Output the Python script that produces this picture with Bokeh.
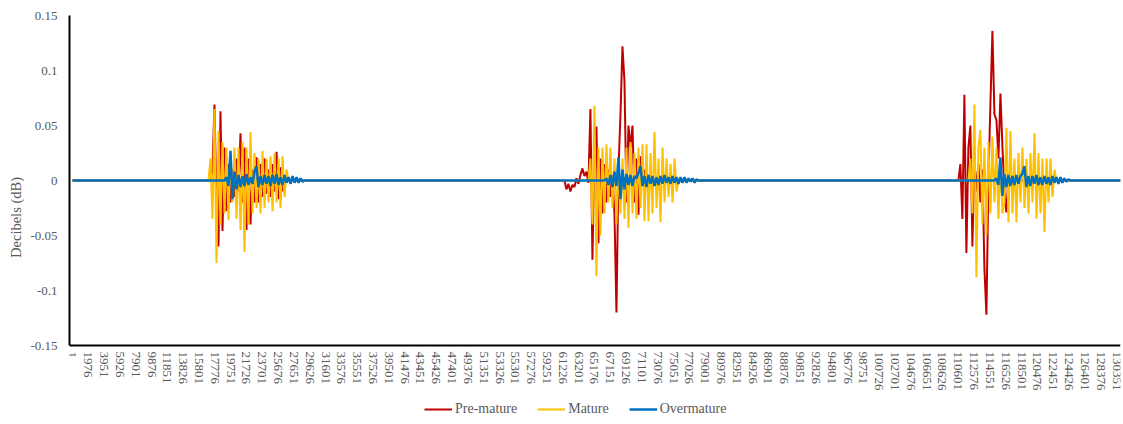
from bokeh.plotting import figure
from bokeh.models import Range1d, FixedTicker, Legend, LegendItem, NumeralTickFormatter
from bokeh.embed import file_html
from bokeh.resources import INLINE

# ---- axis data ----
x_tick_labels = list(range(1, 130352, 1975))
y_ticks = [-0.15, -0.1, -0.05, 0, 0.05, 0.1, 0.15]
y_tick_labels = ["-0.15", "-0.1", "-0.05", "0", "0.05", "0.1", "0.15"]
Y_MIN, Y_MAX = -0.15, 0.15
FIRST_SAMPLE = 1
LAST_SAMPLE = 130850
STEP = 250  # samples between listed readings

# ---- Pre-mature (red) bursts: start sample, readings ----
pre_b1_start = 17480
pre_b1 = [0.01, 0.069, -0.02, -0.06, 0.063, -0.046, 0.03, -0.028, 0.015, -0.02, 0.01, -0.015,
          0.02, -0.01, 0.043, -0.02, 0.03, -0.045, 0.02, -0.04, 0.01, -0.02, 0.021, -0.02,
          0.015, -0.015, 0.02, -0.012, 0.01, -0.015, 0.015, -0.01, 0.026, -0.017, 0.012, -0.01, 0.005]
pre_b2_start = 61670
pre_b2 = [-0.008, -0.003, -0.01, -0.004, -0.006, 0.002, -0.003, 0.005, 0.011, 0.004, 0.008, -0.002,
          0.065, -0.072, 0.03, 0.049, -0.057, 0.02, -0.03, 0.015, -0.02, 0.01, -0.015, 0.005,
          -0.03, -0.12, 0.01, 0.06, 0.122, 0.09, -0.02, 0.05, 0.03, 0.05, -0.02, 0.02,
          -0.031, 0.022, -0.005, 0.01, -0.005, 0.004]
pre_b3_start = 110860
pre_b3 = [0.015, -0.035, 0.078, -0.066, 0.03, 0.05, -0.06, 0.02, -0.01, 0.015, -0.02, 0.01,
          -0.08, -0.122, 0.0, 0.07, 0.136, 0.06, 0.055, 0.02, 0.079, 0.03, -0.01, -0.029, 0.005, -0.005]

# ---- Mature (yellow) bursts ----
mat_b1_start = 17230
mat_b1 = [0.02, -0.035, 0.065, -0.075, 0.045, -0.04, 0.035, -0.03, 0.03, -0.036, 0.025, -0.02,
          0.03, -0.035, 0.03, -0.045, 0.035, -0.065, 0.03, -0.04, 0.044, -0.03, 0.025, -0.025,
          0.02, -0.03, 0.027, -0.025, 0.02, -0.02, 0.022, -0.028, 0.025, -0.02, 0.02, -0.025,
          0.022, -0.015, 0.01]
mat_b2_start = 64670
mat_b2 = [0.02, -0.04, 0.068, -0.087, 0.03, -0.05, 0.03, -0.03, 0.033, -0.02, 0.03, -0.025,
          0.02, -0.04, 0.015, -0.03, 0.02, -0.035, 0.03, -0.043, 0.035, -0.03, 0.025, -0.035,
          0.03, -0.025, 0.033, -0.037, 0.033, -0.037, 0.025, -0.03, 0.044, -0.025, 0.02, -0.038,
          0.03, -0.02, 0.02, -0.015, 0.015, -0.02, 0.02, -0.01]
mat_b3_start = 112110
mat_b3 = [0.02, -0.03, 0.069, -0.088, 0.03, 0.046, -0.04, 0.03, -0.05, 0.035, -0.03, 0.04,
          -0.02, 0.03, -0.035, 0.02, -0.03, -0.02, 0.048, -0.038, 0.045, -0.03, 0.02, -0.038,
          0.025, -0.02, 0.03, -0.025, 0.02, -0.03, 0.025, -0.02, 0.043, -0.035, 0.025, -0.03,
          0.02, -0.047, 0.02, -0.02, 0.02, -0.015, 0.01]

# ---- Overmature (blue) bursts ----
ovr_b1_start = 19230
ovr_b1 = [0.003, -0.005, 0.027, -0.017, 0.008, -0.008, 0.005, -0.006, 0.004, -0.005, 0.006, -0.004,
          0.003, -0.003, 0.008, 0.013, -0.006, 0.004, -0.004, 0.005, -0.003, 0.004, -0.005, 0.005,
          -0.003, 0.006, -0.004, 0.003, -0.004, 0.005, -0.002, 0.003, -0.003, 0.004, -0.002, 0.003,
          -0.002, 0.002, -0.001]
ovr_b2_start = 66670
ovr_b2 = [0.002, -0.004, 0.005, -0.006, 0.008, -0.005, 0.021, -0.017, 0.01, -0.008, 0.006, -0.004,
          0.005, -0.005, 0.004, 0.002, 0.007, 0.013, -0.005, 0.004, -0.006, 0.005, -0.003, 0.004,
          -0.005, 0.003, -0.004, 0.004, -0.003, 0.005, -0.002, 0.003, -0.003, 0.004, -0.002, 0.003,
          -0.003, 0.003, -0.002, 0.003, -0.002, 0.002, -0.001, 0.002, -0.002, 0.001, 0.0]
ovr_b3_start = 115350
ovr_b3 = [0.002, -0.004, 0.021, -0.014, 0.006, -0.006, 0.005, -0.005, 0.004, -0.004, 0.005, -0.003,
          0.004, 0.006, 0.013, -0.006, 0.004, -0.005, 0.004, -0.003, 0.005, -0.004, 0.003, -0.004,
          0.004, -0.003, 0.003, -0.004, 0.004, -0.002, 0.003, -0.003, 0.003, -0.002, 0.002, -0.001, 0.001]


def build(segments):
    xs, ys = [FIRST_SAMPLE], [0.0]
    for start, vals in segments:
        xs.append(start - STEP); ys.append(0.0)
        for i, v in enumerate(vals):
            xs.append(start + i * STEP); ys.append(v)
        xs.append(start + len(vals) * STEP); ys.append(0.0)
    xs.append(LAST_SAMPLE); ys.append(0.0)
    return xs, ys


pre_x, pre_y = build([(pre_b1_start, pre_b1), (pre_b2_start, pre_b2), (pre_b3_start, pre_b3)])
mat_x, mat_y = build([(mat_b1_start, mat_b1), (mat_b2_start, mat_b2), (mat_b3_start, mat_b3)])
ovr_x, ovr_y = build([(ovr_b1_start, ovr_b1), (ovr_b2_start, ovr_b2), (ovr_b3_start, ovr_b3)])

FONT = "Liberation Serif"
GREY = "#595959"

# the frame is extended below the value axis so the tick labels and legend sit inside it
PX_PER_UNIT = 1100.0
EXTRA_PX = 74
FRAME_H = 330 + EXTRA_PX

p = figure(frame_width=1051, frame_height=FRAME_H, output_backend="svg", toolbar_location=None,
           x_range=Range1d(-370, LAST_SAMPLE),
           y_range=Range1d(Y_MIN - EXTRA_PX / PX_PER_UNIT, Y_MAX),
           min_border_left=69, min_border_right=2, min_border_top=15, min_border_bottom=0)
p.outline_line_color = None
p.xgrid.visible = False
p.ygrid.visible = False

r_pre = p.line(pre_x, pre_y, line_color="#C00000", line_width=2)
r_mat = p.line(mat_x, mat_y, line_color="#FFC000", line_width=2)
r_ovr = p.line(ovr_x, ovr_y, line_color="#0070C0", line_width=2.5)

for ax in (p.xaxis[0], p.yaxis[0]):
    ax.axis_line_color = "black"
    ax.axis_line_width = 2
    ax.major_tick_line_color = None
    ax.minor_tick_line_color = None
    ax.major_tick_out = 0
    ax.major_tick_in = 0
    ax.major_label_text_font = FONT
    ax.major_label_text_color = GREY
    ax.major_label_text_font_size = "13px"

p.yaxis.ticker = FixedTicker(ticks=y_ticks)
p.yaxis.bounds = (Y_MIN, Y_MAX)
p.yaxis.major_label_overrides = dict(zip(y_ticks, y_tick_labels))
p.yaxis.major_label_standoff = 12
p.yaxis.axis_label = "Decibels (dB)"
p.yaxis.axis_label_text_font = FONT
p.yaxis.axis_label_text_font_style = "normal"
p.yaxis.axis_label_text_font_size = "14.5px"
p.yaxis.axis_label_text_color = GREY
p.yaxis.axis_label_standoff = 3

p.xaxis.fixed_location = Y_MIN
p.xaxis.ticker = FixedTicker(ticks=x_tick_labels)
p.xaxis.formatter = NumeralTickFormatter(format="0")
p.xaxis.major_label_orientation = "vertical"
p.xaxis.major_label_standoff = 6

legend = Legend(items=[LegendItem(label="Pre-mature", renderers=[r_pre]),
                       LegendItem(label="Mature", renderers=[r_mat]),
                       LegendItem(label="Overmature", renderers=[r_ovr])],
                orientation="horizontal", location=(355, 2),
                label_text_font=FONT, label_text_font_size="14px", label_text_color=GREY,
                glyph_width=28, glyph_height=14, label_standoff=3, spacing=20,
                border_line_color=None, background_fill_alpha=0, padding=2, margin=0)
p.add_layout(legend, "center")

open("out.html", "w").write(file_html(p, INLINE))
